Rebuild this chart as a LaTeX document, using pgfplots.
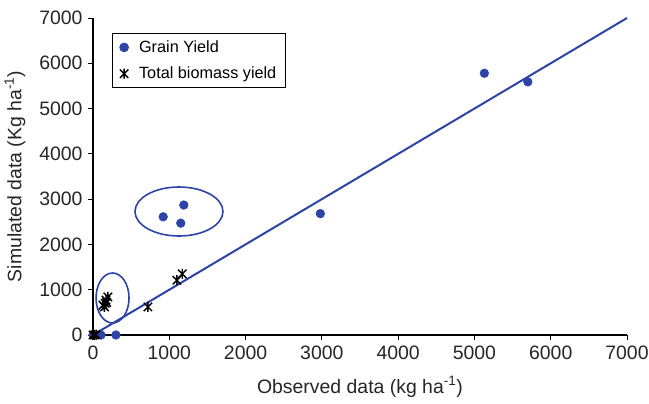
\documentclass[border=0pt]{standalone}
\usepackage{fontspec}
\setmainfont{Liberation Sans}
\usepackage{pgfplots}
\pgfplotsset{compat=1.18}

\definecolor{serblue}{RGB}{44,68,168}

% Star marker: an x with a vertical stroke
\pgfdeclareplotmark{xstar}{%
  \pgfpathmoveto{\pgfqpoint{-\pgfplotmarksize}{-\pgfplotmarksize}}%
  \pgfpathlineto{\pgfqpoint{\pgfplotmarksize}{\pgfplotmarksize}}%
  \pgfpathmoveto{\pgfqpoint{-\pgfplotmarksize}{\pgfplotmarksize}}%
  \pgfpathlineto{\pgfqpoint{\pgfplotmarksize}{-\pgfplotmarksize}}%
  \pgfpathmoveto{\pgfqpoint{0pt}{-1.2\pgfplotmarksize}}%
  \pgfpathlineto{\pgfqpoint{0pt}{1.2\pgfplotmarksize}}%
  \pgfusepathqstroke}

\begin{document}
\begin{tikzpicture}
\useasboundingbox (-93bp,-69bp) rectangle (556bp,335bp);
\begin{axis}[
  at={(0,0)}, anchor=south west,
  scale only axis,
  width=534bp, height=317bp,
  xmin=0, xmax=7000, ymin=0, ymax=7000,
  xtick={0,1000,...,7000}, ytick={0,1000,...,7000},
  axis lines=left,
  axis line style={-, line width=1.2bp, black},
  tick align=outside,
  major tick length=5bp,
  tick style={line width=1bp, black},
  /pgf/number format/assume math mode=true,
  /pgf/number format/1000 sep={},
  tick label style={font=\fontsize{19.5}{22}\selectfont, text=black!85},
  xticklabel style={yshift=-2bp},
  yticklabel style={xshift=-2bp},
  xlabel={Observed data (kg ha\textsuperscript{-1})},
  ylabel={Simulated data (Kg ha\textsuperscript{-1})},
  label style={font=\fontsize{19.5}{22}\selectfont, text=black!85},
  xlabel style={at={(axis description cs:0.5,-0.164)}, anchor=center},
  ylabel style={at={(axis description cs:-0.146,0.5)}, anchor=center, rotate=0},
  clip=false,
  legend style={
    at={(rel axis cs:0.036,0.953)}, anchor=north west,
    draw=black, line width=0.8bp,
    font=\fontsize{16.3}{19}\selectfont,
    inner xsep=7bp, inner ysep=5.5bp,
    row sep=9bp,
    legend cell align=left,
  },
  legend image code/.code={%
    \draw[#1] plot coordinates {(0bp,0bp)};
    \path[draw=none, fill=none] (-4.5bp,0bp) (13bp,0bp);},
]
% 1:1 line
\addplot[serblue, line width=2bp, forget plot] coordinates {(0,0) (7000,7000)};

% Grain yield
\addplot[only marks, mark=*, mark size=4.4bp, color=serblue, fill=serblue]
  coordinates {
    (5130,5780) (5700,5590) (2980,2680)
    (920,2610) (1190,2870) (1150,2470)
    (105,0) (300,0) (0,0)
  };
\addlegendentry{Grain Yield}

% Total biomass yield
\addplot[only marks, mark=xstar, mark size=4.2bp, color=black, line width=1.4bp]
  coordinates {
    (720,620) (1100,1210) (1170,1350)
    (130,660) (150,620) (170,770) (195,840) (180,720) (160,700)
    (0,0) (20,0) (40,10)
  };
\addlegendentry{Total biomass yield}

% Groups of points picked out
\draw[serblue, line width=1.6bp] (axis cs:1127,2727) ellipse [x radius=44bp, y radius=24.5bp];
\draw[serblue, line width=1.6bp] (axis cs:256,817) ellipse [x radius=16.5bp, y radius=25bp];
\end{axis}
\end{tikzpicture}
\end{document}
